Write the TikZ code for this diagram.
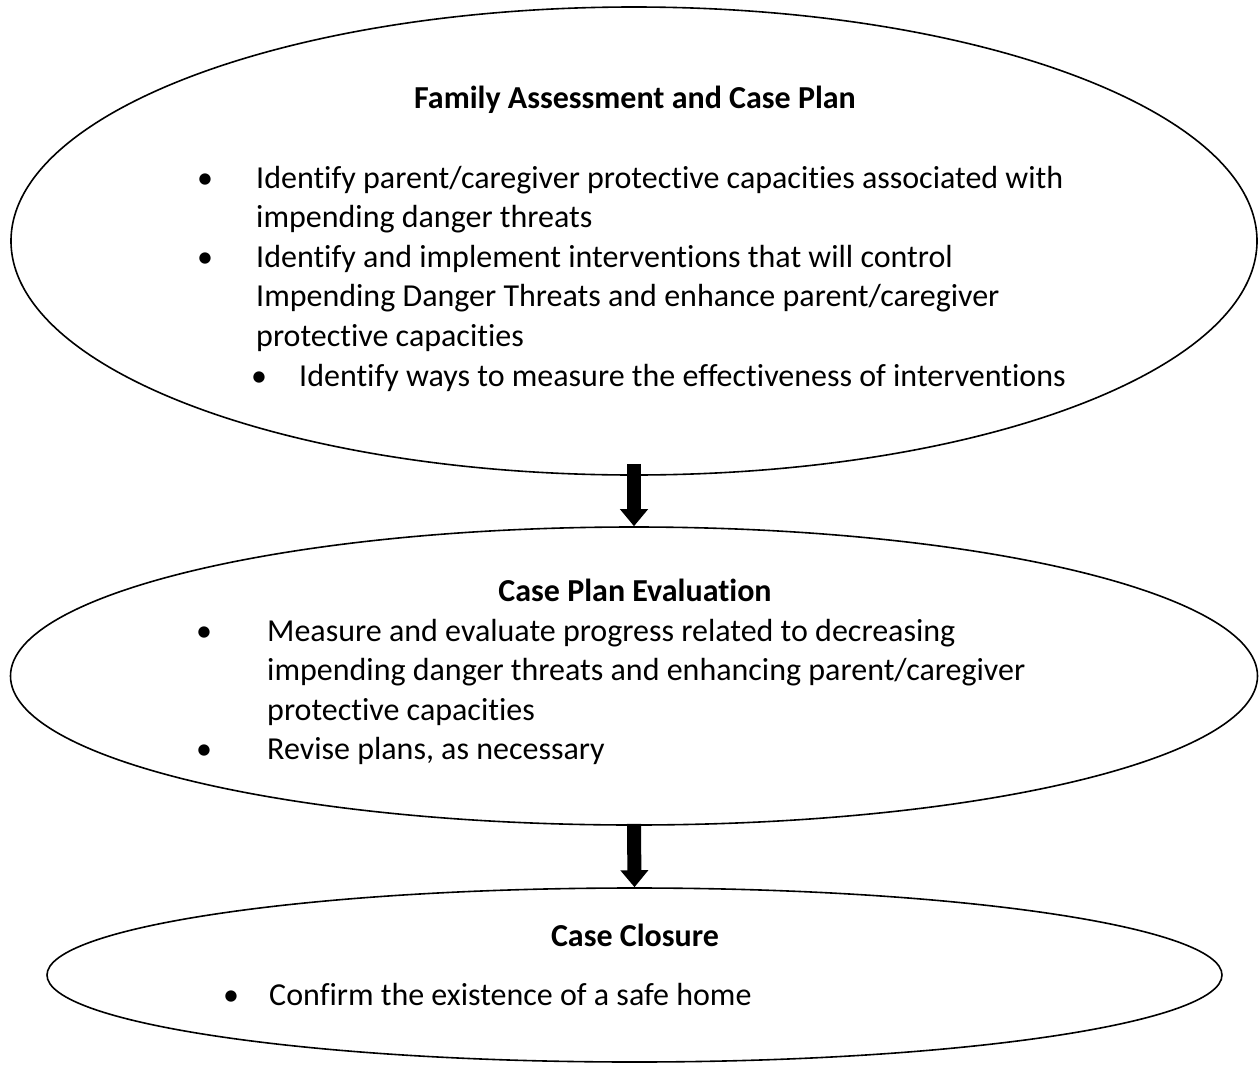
\documentclass[tikz,border=0pt]{standalone}
\usepackage{fontspec}
\setmainfont{Carlito}[Ligatures=NoCommon]
\usetikzlibrary{shapes.geometric,arrows.meta}

\begin{document}
\begin{tikzpicture}[x=1pt,y=-1pt,
  stage/.style={ellipse, draw=black, line width=1.6pt, inner sep=0pt},
  ttl/.style={anchor=base, font=\fontsize{32}{38}\selectfont\bfseries},
  txt/.style={anchor=base west, font=\fontsize{32}{38}\selectfont, inner sep=0pt},
  dot/.style={anchor=base, font=\fontsize{32}{38}\selectfont, inner sep=0pt},
  flow/.style={line width=14pt, -{Triangle[width=27pt,length=17pt]}}]

  \useasboundingbox (0,0) rectangle (1259,1066);

  % the three stages
  \node[stage, minimum width=1246pt, minimum height=468pt] (e1) at (634,241) {};
  \node[stage, minimum width=1247pt, minimum height=298pt] (e2) at (634,676) {};
  \node[stage, minimum width=1175pt, minimum height=174pt] (e3) at (634.5,975) {};

  % stage 1
  \node[ttl] (t1) at (635,108) {Family Assessment and Case Plan};
  \node[dot] (b11) at (205,188) {•};
  \node[txt] (l11) at (256,188) {Identify parent/caregiver protective capacities associated with};
  \node[txt] (l12) at (256,227) {impending danger threats};
  \node[dot] (b12) at (205,267) {•};
  \node[txt] (l13) at (256,267) {Identify and implement interventions that will control};
  \node[txt] (l14) at (256,306) {Impending Danger Threats and enhance parent/caregiver};
  \node[txt] (l15) at (256,346) {protective capacities};
  \node[dot] (b13) at (259,386) {•};
  \node[txt] (l16) at (299,386) {Identify ways to measure the effectiveness of interventions};

  % stage 2
  \node[ttl] (t2) at (635,601) {Case Plan Evaluation};
  \node[dot] (b21) at (204,641) {•};
  \node[txt] (l21) at (267,641) {Measure and evaluate progress related to decreasing};
  \node[txt] (l22) at (267,680) {impending danger threats and enhancing parent/caregiver};
  \node[txt] (l23) at (267,720) {protective capacities};
  \node[dot] (b22) at (204,759) {•};
  \node[txt] (l24) at (267,759) {Revise plans, as necessary};

  % stage 3
  \node[ttl] (t3) at (635,946) {Case Closure};
  \node[dot] (b31) at (231,1005) {•};
  \node[txt] (l31) at (269,1005) {Confirm the existence of a safe home};

  % connectors
  \draw[flow] ([yshift=12pt]e1.south) -- (e2.north);
  \draw[flow] ([yshift=2pt]e2.south) -- (e3.north);
\end{tikzpicture}
\end{document}
